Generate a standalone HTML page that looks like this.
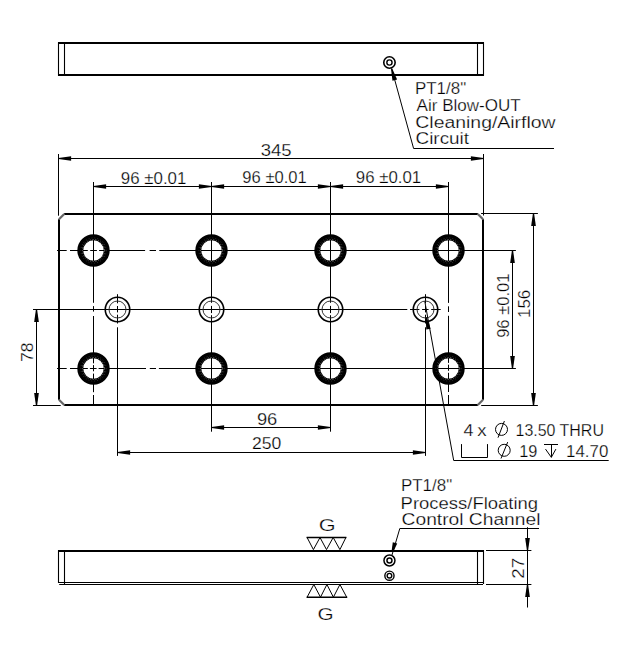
<!DOCTYPE html>
<html><head><meta charset="utf-8"><style>
html,body{margin:0;padding:0;background:#fff;width:623px;height:658px;overflow:hidden}
svg{display:block}
text{font-family:"Liberation Sans",sans-serif;fill:#000;stroke:#fff;stroke-width:0.25px}
</style></head><body>
<svg width="623" height="658" viewBox="0 0 623 658" stroke="#000" fill="none">
<line x1="58" y1="43" x2="484" y2="43" stroke-width="2.0" />
<line x1="58" y1="75" x2="484" y2="75" stroke-width="2.0" />
<line x1="58.5" y1="42.3" x2="58.5" y2="75.7" stroke-width="1.1" />
<line x1="483.5" y1="42.3" x2="483.5" y2="75.7" stroke-width="1.1" />
<line x1="64.5" y1="43" x2="64.5" y2="75" stroke-width="1.1" />
<line x1="477.5" y1="43" x2="477.5" y2="75" stroke-width="1.1" />
<circle cx="389.45" cy="62.5" r="5.7" stroke-width="1.6" fill="none" />
<circle cx="389.45" cy="62.5" r="2.6" stroke-width="1.4" fill="none" />
<line x1="391.6" y1="68.5" x2="413.6" y2="148.5" stroke-width="1.0" />
<path d="M391.02,68.76 L392.47,80.81 L397.10,79.53 L392.18,68.44 Z" fill="#000" stroke="none"/>
<line x1="413.6" y1="148.5" x2="554" y2="148.5" stroke-width="1.0" />
<line x1="64.2" y1="214" x2="477.8" y2="214" stroke-width="2.0" />
<line x1="483" y1="219.2" x2="483" y2="399.8" stroke-width="2.0" />
<line x1="477.8" y1="405" x2="64.2" y2="405" stroke-width="2.0" />
<line x1="59" y1="399.8" x2="59" y2="219.2" stroke-width="2.0" />
<line x1="477.8" y1="214" x2="483" y2="219.2" stroke-width="2.2" stroke="#666"/>
<line x1="483" y1="399.8" x2="477.8" y2="405" stroke-width="2.2" stroke="#666"/>
<line x1="64.2" y1="405" x2="59" y2="399.8" stroke-width="2.2" stroke="#666"/>
<line x1="59" y1="219.2" x2="64.2" y2="214" stroke-width="2.2" stroke="#666"/>
<line x1="58.5" y1="154" x2="58.5" y2="215.7" stroke-width="1.0" />
<line x1="483.5" y1="154" x2="483.5" y2="215.5" stroke-width="1.0" />
<line x1="58.5" y1="158.5" x2="483.5" y2="158.5" stroke-width="1.0" />
<path d="M58.50,159.10 L71.10,160.85 L71.10,156.15 L58.50,157.90 Z" fill="#000" stroke="none"/>
<path d="M483.50,157.90 L470.90,156.15 L470.90,160.85 L483.50,159.10 Z" fill="#000" stroke="none"/>
<line x1="93.5" y1="186.5" x2="448.5" y2="186.5" stroke-width="1.0" />
<path d="M93.50,187.10 L106.10,188.85 L106.10,184.15 L93.50,185.90 Z" fill="#000" stroke="none"/>
<path d="M211.50,185.90 L198.90,184.15 L198.90,188.85 L211.50,187.10 Z" fill="#000" stroke="none"/>
<path d="M211.50,187.10 L224.10,188.85 L224.10,184.15 L211.50,185.90 Z" fill="#000" stroke="none"/>
<path d="M330.50,185.90 L317.90,184.15 L317.90,188.85 L330.50,187.10 Z" fill="#000" stroke="none"/>
<path d="M330.50,187.10 L343.10,188.85 L343.10,184.15 L330.50,185.90 Z" fill="#000" stroke="none"/>
<path d="M448.50,185.90 L435.90,184.15 L435.90,188.85 L448.50,187.10 Z" fill="#000" stroke="none"/>
<line x1="93.5" y1="182" x2="93.5" y2="302.8" stroke-width="1.0" />
<line x1="93.5" y1="306.1" x2="93.5" y2="311.6" stroke-width="1.0" />
<line x1="93.5" y1="316.0" x2="93.5" y2="363.3" stroke-width="1.0" />
<line x1="93.5" y1="365.1" x2="93.5" y2="371.3" stroke-width="1.0" />
<line x1="93.5" y1="373.6" x2="93.5" y2="392.2" stroke-width="1.0" />
<line x1="93.5" y1="395" x2="93.5" y2="405" stroke-width="1.0" />
<line x1="211.5" y1="182" x2="211.5" y2="302.8" stroke-width="1.0" />
<line x1="211.5" y1="305.9" x2="211.5" y2="313.1" stroke-width="1.0" />
<line x1="211.5" y1="315.2" x2="211.5" y2="431.7" stroke-width="1.0" />
<line x1="330.5" y1="182" x2="330.5" y2="302.8" stroke-width="1.0" />
<line x1="330.5" y1="305.9" x2="330.5" y2="313.1" stroke-width="1.0" />
<line x1="330.5" y1="315.2" x2="330.5" y2="431.7" stroke-width="1.0" />
<line x1="448.5" y1="182" x2="448.5" y2="302.9" stroke-width="1.0" />
<line x1="448.5" y1="306.3" x2="448.5" y2="312.0" stroke-width="1.0" />
<line x1="448.5" y1="315.8" x2="448.5" y2="362.9" stroke-width="1.0" />
<line x1="448.5" y1="364.7" x2="448.5" y2="370.8" stroke-width="1.0" />
<line x1="448.5" y1="372.8" x2="448.5" y2="392" stroke-width="1.0" />
<line x1="448.5" y1="395" x2="448.5" y2="405" stroke-width="1.0" />
<line x1="117.5" y1="294.2" x2="117.5" y2="303.3" stroke-width="1.0" />
<line x1="117.5" y1="306.0" x2="117.5" y2="312.4" stroke-width="1.0" />
<line x1="117.5" y1="314.7" x2="117.5" y2="323.5" stroke-width="1.0" />
<line x1="117.5" y1="327.3" x2="117.5" y2="455.9" stroke-width="1.0" />
<line x1="425.5" y1="294.2" x2="425.5" y2="303.3" stroke-width="1.0" />
<line x1="425.5" y1="306.0" x2="425.5" y2="312.4" stroke-width="1.0" />
<line x1="425.5" y1="314.7" x2="425.5" y2="323.5" stroke-width="1.0" />
<line x1="425.5" y1="327.3" x2="425.5" y2="455.9" stroke-width="1.0" />
<line x1="57" y1="250.5" x2="66.7" y2="250.5" stroke-width="1.0" />
<line x1="70" y1="250.5" x2="87.8" y2="250.5" stroke-width="1.0" />
<line x1="90.2" y1="250.5" x2="96.9" y2="250.5" stroke-width="1.0" />
<line x1="99.1" y1="250.5" x2="145.1" y2="250.5" stroke-width="1.0" />
<line x1="149.6" y1="250.5" x2="156" y2="250.5" stroke-width="1.0" />
<line x1="159.3" y1="250.5" x2="515.9" y2="250.5" stroke-width="1.0" />
<line x1="33" y1="309.5" x2="407.3" y2="309.5" stroke-width="1.0" />
<line x1="410.0" y1="309.5" x2="419.4" y2="309.5" stroke-width="1.0" />
<line x1="422.1" y1="309.5" x2="428.6" y2="309.5" stroke-width="1.0" />
<line x1="431.2" y1="309.5" x2="440.7" y2="309.5" stroke-width="1.0" />
<line x1="57" y1="368.5" x2="66.7" y2="368.5" stroke-width="1.0" />
<line x1="70" y1="368.5" x2="87.85" y2="368.5" stroke-width="1.0" />
<line x1="89.9" y1="368.5" x2="96.6" y2="368.5" stroke-width="1.0" />
<line x1="98.6" y1="368.5" x2="146" y2="368.5" stroke-width="1.0" />
<line x1="149.8" y1="368.5" x2="156" y2="368.5" stroke-width="1.0" />
<line x1="158.9" y1="368.5" x2="515.9" y2="368.5" stroke-width="1.0" />
<line x1="33" y1="405.5" x2="60.7" y2="405.5" stroke-width="1.0" />
<line x1="36.5" y1="309.5" x2="36.5" y2="405.5" stroke-width="1.0" />
<path d="M35.90,309.50 L34.15,322.10 L38.85,322.10 L37.10,309.50 Z" fill="#000" stroke="none"/>
<path d="M37.10,405.50 L38.85,392.90 L34.15,392.90 L35.90,405.50 Z" fill="#000" stroke="none"/>
<line x1="481.1" y1="213.5" x2="537.9" y2="213.5" stroke-width="1.0" />
<line x1="481.2" y1="405.5" x2="537.9" y2="405.5" stroke-width="1.0" />
<line x1="533.5" y1="213.5" x2="533.5" y2="405.5" stroke-width="1.0" />
<path d="M532.90,213.50 L531.15,226.10 L535.85,226.10 L534.10,213.50 Z" fill="#000" stroke="none"/>
<path d="M534.10,405.50 L535.85,392.90 L531.15,392.90 L532.90,405.50 Z" fill="#000" stroke="none"/>
<line x1="512.5" y1="250.5" x2="512.5" y2="368.5" stroke-width="1.0" />
<path d="M511.90,250.50 L510.15,263.10 L514.85,263.10 L513.10,250.50 Z" fill="#000" stroke="none"/>
<path d="M513.10,368.50 L514.85,355.90 L510.15,355.90 L511.90,368.50 Z" fill="#000" stroke="none"/>
<line x1="211.5" y1="427.5" x2="330.5" y2="427.5" stroke-width="1.0" />
<path d="M211.50,428.10 L224.10,429.85 L224.10,425.15 L211.50,426.90 Z" fill="#000" stroke="none"/>
<path d="M330.50,426.90 L317.90,425.15 L317.90,429.85 L330.50,428.10 Z" fill="#000" stroke="none"/>
<line x1="117.5" y1="452.5" x2="425.5" y2="452.5" stroke-width="1.0" />
<path d="M117.50,453.10 L130.10,454.85 L130.10,450.15 L117.50,451.90 Z" fill="#000" stroke="none"/>
<path d="M425.50,451.90 L412.90,450.15 L412.90,454.85 L425.50,453.10 Z" fill="#000" stroke="none"/>
<circle cx="93.5" cy="250.5" r="13.2" stroke-width="6.0" fill="none" />
<circle cx="93.5" cy="250.5" r="11.0" stroke-width="0.7" fill="none" stroke="#999" stroke-dasharray="1.2 1.6"/>
<circle cx="93.5" cy="250.5" r="12.6" stroke-width="0.5" fill="none" stroke="#777" stroke-dasharray="0.8 2.2"/>
<circle cx="211.5" cy="250.5" r="13.2" stroke-width="6.0" fill="none" />
<circle cx="211.5" cy="250.5" r="11.0" stroke-width="0.7" fill="none" stroke="#999" stroke-dasharray="1.2 1.6"/>
<circle cx="211.5" cy="250.5" r="12.6" stroke-width="0.5" fill="none" stroke="#777" stroke-dasharray="0.8 2.2"/>
<circle cx="330.5" cy="250.5" r="13.2" stroke-width="6.0" fill="none" />
<circle cx="330.5" cy="250.5" r="11.0" stroke-width="0.7" fill="none" stroke="#999" stroke-dasharray="1.2 1.6"/>
<circle cx="330.5" cy="250.5" r="12.6" stroke-width="0.5" fill="none" stroke="#777" stroke-dasharray="0.8 2.2"/>
<circle cx="448.5" cy="250.5" r="13.2" stroke-width="6.0" fill="none" />
<circle cx="448.5" cy="250.5" r="11.0" stroke-width="0.7" fill="none" stroke="#999" stroke-dasharray="1.2 1.6"/>
<circle cx="448.5" cy="250.5" r="12.6" stroke-width="0.5" fill="none" stroke="#777" stroke-dasharray="0.8 2.2"/>
<circle cx="93.5" cy="368.5" r="13.2" stroke-width="6.0" fill="none" />
<circle cx="93.5" cy="368.5" r="11.0" stroke-width="0.7" fill="none" stroke="#999" stroke-dasharray="1.2 1.6"/>
<circle cx="93.5" cy="368.5" r="12.6" stroke-width="0.5" fill="none" stroke="#777" stroke-dasharray="0.8 2.2"/>
<circle cx="211.5" cy="368.5" r="13.2" stroke-width="6.0" fill="none" />
<circle cx="211.5" cy="368.5" r="11.0" stroke-width="0.7" fill="none" stroke="#999" stroke-dasharray="1.2 1.6"/>
<circle cx="211.5" cy="368.5" r="12.6" stroke-width="0.5" fill="none" stroke="#777" stroke-dasharray="0.8 2.2"/>
<circle cx="330.5" cy="368.5" r="13.2" stroke-width="6.0" fill="none" />
<circle cx="330.5" cy="368.5" r="11.0" stroke-width="0.7" fill="none" stroke="#999" stroke-dasharray="1.2 1.6"/>
<circle cx="330.5" cy="368.5" r="12.6" stroke-width="0.5" fill="none" stroke="#777" stroke-dasharray="0.8 2.2"/>
<circle cx="448.5" cy="368.5" r="13.2" stroke-width="6.0" fill="none" />
<circle cx="448.5" cy="368.5" r="11.0" stroke-width="0.7" fill="none" stroke="#999" stroke-dasharray="1.2 1.6"/>
<circle cx="448.5" cy="368.5" r="12.6" stroke-width="0.5" fill="none" stroke="#777" stroke-dasharray="0.8 2.2"/>
<circle cx="117.5" cy="309.5" r="12.25" stroke-width="1.6" fill="none" />
<circle cx="117.5" cy="309.5" r="8.5" stroke-width="1.0" fill="none" stroke="#333"/>
<circle cx="211.5" cy="309.5" r="12.25" stroke-width="1.6" fill="none" />
<circle cx="211.5" cy="309.5" r="8.5" stroke-width="1.0" fill="none" stroke="#333"/>
<circle cx="330.5" cy="309.5" r="12.25" stroke-width="1.6" fill="none" />
<circle cx="330.5" cy="309.5" r="8.5" stroke-width="1.0" fill="none" stroke="#333"/>
<circle cx="425.5" cy="309.5" r="12.25" stroke-width="1.6" fill="none" />
<circle cx="425.5" cy="309.5" r="8.5" stroke-width="1.0" fill="none" stroke="#333"/>
<line x1="424.8" y1="301.4" x2="453.7" y2="460.5" stroke-width="1.0" />
<path d="M425.71,317.51 L426.28,329.60 L430.61,328.81 L426.89,317.29 Z" fill="#000" stroke="none"/>
<line x1="453.7" y1="460.5" x2="608.7" y2="460.5" stroke-width="1.0" />
<circle cx="501.5" cy="429.4" r="6.0" stroke-width="1.0" fill="none" />
<line x1="504.4" y1="421" x2="498" y2="437.7" stroke-width="1.0" />
<circle cx="504.2" cy="450.3" r="6.0" stroke-width="1.0" fill="none" />
<line x1="507.7" y1="442.1" x2="501" y2="458.5" stroke-width="1.0" />
<path d="M461.5,444.1 V457.5 H487.5 V444.1" stroke-width="1.0" fill="none" />
<line x1="544" y1="444.5" x2="558" y2="444.5" stroke-width="1.0" />
<path d="M545.5,449.1 L551.3,457.3 L555.9,449.1" stroke-width="1.0" fill="none" />
<line x1="551.5" y1="444.5" x2="551.5" y2="457.3" stroke-width="1.0" />
<line x1="58" y1="551" x2="484" y2="551" stroke-width="2.0" />
<line x1="58.5" y1="582.5" x2="483.5" y2="582.5" stroke-width="1.1" />
<line x1="59.2" y1="584.5" x2="483" y2="584.5" stroke-width="1.1" />
<line x1="58.5" y1="550.3" x2="58.5" y2="583" stroke-width="1.1" />
<line x1="483.5" y1="550.3" x2="483.5" y2="584" stroke-width="1.1" />
<line x1="64.5" y1="551" x2="64.5" y2="584" stroke-width="1.1" />
<line x1="477.5" y1="551" x2="477.5" y2="585" stroke-width="1.1" />
<circle cx="389.45" cy="560.5" r="5.5" stroke-width="1.5" fill="none" />
<circle cx="389.45" cy="560.5" r="2.5" stroke-width="1.5" fill="none" />
<circle cx="389.45" cy="575.7" r="4.6" stroke-width="1.4" fill="none" />
<circle cx="389.45" cy="575.7" r="2.3" stroke-width="1.4" fill="none" />
<line x1="399.8" y1="528.5" x2="392" y2="555" stroke-width="1.0" />
<path d="M393.56,551.28 L397.21,543.50 L392.79,542.20 L391.64,550.72 Z" fill="#000" stroke="none"/>
<line x1="399.8" y1="528.5" x2="539" y2="528.5" stroke-width="1.0" />
<line x1="486" y1="550.5" x2="531.4" y2="550.5" stroke-width="1.0" />
<line x1="486" y1="584.5" x2="531.4" y2="584.5" stroke-width="1.0" />
<line x1="527.5" y1="527.2" x2="527.5" y2="607.5" stroke-width="1.0" />
<path d="M528.10,550.50 L529.85,537.90 L525.15,537.90 L526.90,550.50 Z" fill="#000" stroke="none"/>
<path d="M526.90,584.50 L525.15,597.10 L529.85,597.10 L528.10,584.50 Z" fill="#000" stroke="none"/>
<path d="M345.9,537.5 L339.9,549.6 L333.2,537.5 L326.5,549.6 L320,537.5 L313.4,549.6 L307.1,537.5" stroke-width="1.0" fill="none" />
<line x1="306.6" y1="537.5" x2="346.4" y2="537.5" stroke-width="1.5" />
<path d="M307.1,597.2 L313.8,584.5 L320.5,597.2 L326.9,584.5 L333.4,597.2 L339.9,584.5 L346.7,597.2" stroke-width="1.0" fill="none" />
<line x1="306.6" y1="597.2" x2="347.2" y2="597.2" stroke-width="1.5" />
<text x="415.00" y="94.39" font-size="16" text-anchor="start" textLength="51.16" lengthAdjust="spacingAndGlyphs" >PT1/8&quot;</text>
<text x="416.60" y="110.58" font-size="16" text-anchor="start" textLength="104.03" lengthAdjust="spacingAndGlyphs" >Air Blow-OUT</text>
<text x="415.30" y="127.71" font-size="16" text-anchor="start" textLength="140.33" lengthAdjust="spacingAndGlyphs" >Cleaning/Airflow</text>
<text x="415.50" y="144.45" font-size="16" text-anchor="start" textLength="53.56" lengthAdjust="spacingAndGlyphs" >Circuit</text>
<text x="276.20" y="155.68" font-size="16" text-anchor="middle" textLength="30.96" lengthAdjust="spacingAndGlyphs" >345</text>
<text x="153.60" y="183.51" font-size="16" text-anchor="middle" textLength="65.50" lengthAdjust="spacingAndGlyphs" >96 ±0.01</text>
<text x="274.55" y="183.02" font-size="16" text-anchor="middle" textLength="64.38" lengthAdjust="spacingAndGlyphs" >96 ±0.01</text>
<text x="388.50" y="183.02" font-size="16" text-anchor="middle" textLength="65.31" lengthAdjust="spacingAndGlyphs" >96 ±0.01</text>
<text x="33.39" y="352.15" font-size="16" text-anchor="middle" textLength="19.51" lengthAdjust="spacingAndGlyphs" transform="rotate(-90 33.39 352.15)">78</text>
<text x="508.58" y="305.65" font-size="16" text-anchor="middle" textLength="64.36" lengthAdjust="spacingAndGlyphs" transform="rotate(-90 508.58 305.65)">96 ±0.01</text>
<text x="529.98" y="303.90" font-size="16" text-anchor="middle" textLength="28.23" lengthAdjust="spacingAndGlyphs" transform="rotate(-90 529.98 303.90)">156</text>
<text x="267.10" y="424.91" font-size="16" text-anchor="middle" textLength="20.39" lengthAdjust="spacingAndGlyphs" >96</text>
<text x="266.60" y="449.00" font-size="16" text-anchor="middle" textLength="29.33" lengthAdjust="spacingAndGlyphs" >250</text>
<text x="463.40" y="435.99" font-size="16" text-anchor="start" textLength="9.96" lengthAdjust="spacingAndGlyphs" >4</text>
<text x="477.20" y="435.99" font-size="16" text-anchor="start" textLength="9.32" lengthAdjust="spacingAndGlyphs" >x</text>
<text x="515.60" y="436.37" font-size="16" text-anchor="start" textLength="88.30" lengthAdjust="spacingAndGlyphs" >13.50 THRU</text>
<text x="519.20" y="456.50" font-size="16" text-anchor="start" textLength="18.17" lengthAdjust="spacingAndGlyphs" >19</text>
<text x="566.00" y="456.50" font-size="16" text-anchor="start" textLength="42.29" lengthAdjust="spacingAndGlyphs" >14.70</text>
<text x="401.00" y="491.26" font-size="16" text-anchor="start" textLength="51.16" lengthAdjust="spacingAndGlyphs" >PT1/8&quot;</text>
<text x="400.60" y="508.52" font-size="16" text-anchor="start" textLength="137.48" lengthAdjust="spacingAndGlyphs" >Process/Floating</text>
<text x="401.60" y="524.52" font-size="16" text-anchor="start" textLength="138.85" lengthAdjust="spacingAndGlyphs" >Control Channel</text>
<text x="523.92" y="568.35" font-size="16" text-anchor="middle" textLength="20.98" lengthAdjust="spacingAndGlyphs" transform="rotate(-90 523.92 568.35)">27</text>
<text x="327.10" y="531.15" font-size="16" text-anchor="middle" textLength="16.88" lengthAdjust="spacingAndGlyphs" >G</text>
<text x="325.60" y="619.51" font-size="16" text-anchor="middle" textLength="16.12" lengthAdjust="spacingAndGlyphs" >G</text>
</svg></body></html>
